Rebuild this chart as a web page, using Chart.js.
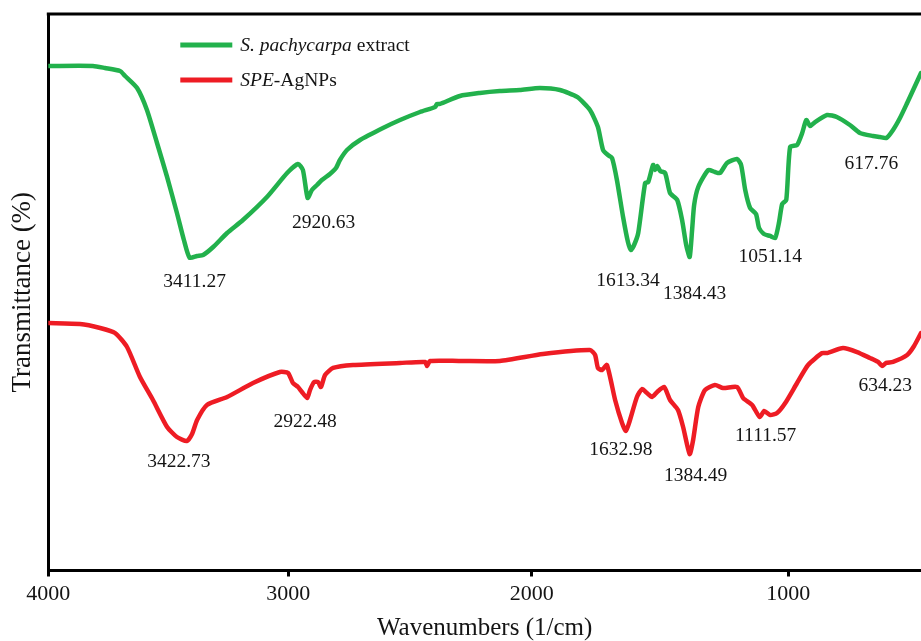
<!DOCTYPE html>
<html>
<head>
<meta charset="utf-8">
<title>FTIR spectra</title>
<script src="https://cdn.jsdelivr.net/npm/chart.js@4/dist/chart.umd.min.js"></script>
<style>
  html, body { margin: 0; padding: 0; background: #fff; overflow: hidden; }
  canvas { display: block; }
</style>
</head>
<body>
<canvas id="ftir" width="921" height="641"></canvas>
<script>
// ---- Spectra (wavenumber in cm^-1, transmittance in arbitrary %) ----
const extractWavenumbers = [
  4000, 3814, 3764, 3701, 3680, 3630, 3589, 3547, 3505, 3464,
  3435, 3411.27, 3380, 3355, 3313, 3255, 3189, 3089, 3005, 2960,
  2940, 2920.63, 2903, 2882, 2862, 2829, 2804, 2788, 2759, 2705,
  2611, 2541, 2459, 2397, 2389, 2377, 2295, 2213, 2131, 2049,
  1968, 1890, 1823, 1773, 1742, 1722, 1703, 1687, 1668, 1644,
  1625, 1613.34, 1601, 1585, 1558, 1546, 1527, 1519, 1511, 1499,
  1480, 1461, 1433, 1414, 1398, 1384.43, 1375, 1367, 1351, 1312,
  1286, 1266, 1239, 1200, 1184, 1168, 1149, 1126, 1114, 1095,
  1071, 1051.14, 1036, 1024, 1008, 993, 966, 946, 930, 915,
  896, 849, 811, 760, 721, 670, 643, 617.76, 592, 565,
  537, 510, 483
];
const extractTransmittance = [
  90.66, 90.66, 90.30, 89.76, 88.86, 86.70, 82.75, 76.82, 70.71, 64.24,
  59.39, 56.20, 56.51, 56.69, 58.13, 60.65, 62.98, 67.12, 71.43, 73.05,
  71.97, 66.94, 68.38, 69.27, 70.17, 71.25, 72.33, 73.77, 75.56, 77.36,
  79.51, 80.95, 82.39, 83.29, 83.83, 83.83, 85.27, 85.81, 86.16, 86.34,
  86.70, 86.34, 85.09, 82.75, 79.69, 75.56, 74.66, 74.12, 70.17, 63.52,
  59.03, 57.59, 58.49, 60.65, 69.63, 69.81, 72.87, 71.97, 72.69, 71.79,
  71.43, 67.83, 66.58, 62.98, 58.49, 56.33, 61.19, 65.69, 68.91, 71.97,
  71.61, 71.43, 73.23, 73.94, 72.87, 68.38, 65.14, 64.06, 61.55, 60.47,
  60.11, 59.75, 62.62, 65.86, 66.58, 76.10, 76.46, 78.62, 80.95, 79.87,
  80.59, 81.85, 81.49, 80.05, 78.62, 78.08, 77.90, 77.72, 79.16, 81.31,
  84.01, 86.70, 89.40
];

const agnpWavenumbers = [
  4000, 3868, 3784, 3722, 3672, 3618, 3564, 3505, 3464, 3422.73,
  3401, 3380, 3339, 3255, 3147, 3035, 3001, 2981, 2960, 2944,
  2922.48, 2911, 2894, 2878, 2866, 2849, 2816, 2734, 2541, 2438,
  2430, 2418, 2295, 2131, 1956, 1773, 1753, 1742, 1726, 1707,
  1675, 1648, 1632.98, 1617, 1590, 1570, 1551, 1531, 1511, 1484,
  1461, 1430, 1410, 1384.49, 1371, 1351, 1325, 1286, 1254, 1200,
  1176, 1141, 1111.57, 1094, 1071, 1044, 1012, 966, 923, 868,
  849, 787, 732, 682, 650, 634.23, 619, 592, 537, 510,
  483
];
const agnpTransmittance = [
  44.47, 44.29, 43.58, 42.68, 40.16, 34.77, 30.64, 25.79, 23.99, 23.27,
  24.53, 27.04, 29.74, 31.18, 33.69, 35.67, 35.49, 33.69, 32.97, 32.08,
  30.98, 32.43, 33.87, 33.87, 32.97, 35.13, 36.39, 36.93, 37.29, 37.47,
  36.75, 37.65, 37.65, 37.65, 38.90, 39.62, 38.72, 36.39, 36.03, 36.93,
  30.64, 26.50, 25.07, 27.04, 31.18, 32.61, 31.90, 31.18, 32.08, 32.97,
  30.64, 28.84, 25.79, 20.93, 23.45, 29.38, 32.43, 33.33, 32.79, 32.97,
  30.98, 29.74, 27.58, 28.66, 27.94, 28.30, 30.10, 33.69, 36.93, 39.08,
  39.08, 39.98, 39.26, 38.19, 37.47, 36.75, 37.29, 37.47, 38.72, 40.34,
  42.68
];

// Annotated band positions (cm^-1)
const extractPeaks = [3411.27, 2920.63, 1613.34, 1384.43, 1051.14, 617.76];
const agnpPeaks = [3422.73, 2922.48, 1632.98, 1384.49, 1111.57, 634.23];

// Legend names: [text, italic] runs
const seriesNames = [
  [['S. pachycarpa', true], [' extract', false]],
  [['SPE', true], ['-AgNPs', false]]
];

const tickValues = [4000, 3000, 2000, 1000];
const axisHigh = 4000;
const axisLow = 483;

// ---- Styling ----
const SERIF = "'Liberation Serif', 'Times New Roman', serif";
const GREEN = '#22B14C';
const RED = '#EE1C24';
const INK = '#141414';

// The exported spectrum axis is a little wider per 1000 cm^-1 toward low wavenumbers.
const axisBreaks = [4000, 3000, 2000, 1000];
const axisStretch = [1.0, 1.0142, 1.0692];

function stretchedDistance(v) {
  let d = 0;
  for (let i = 0; i < axisBreaks.length - 1; i++) {
    const hi = axisBreaks[i], lo = axisBreaks[i + 1];
    const clamped = Math.min(hi, Math.max(lo, v));
    d += (hi - clamped) * axisStretch[i];
  }
  const last = axisBreaks[axisBreaks.length - 1];
  if (v < last) d += (last - v) * axisStretch[axisStretch.length - 1];
  if (v > axisBreaks[0]) d -= (v - axisBreaks[0]) * axisStretch[0];
  return d;
}

class WavenumberScale extends Chart.LinearScale {
  getPixelForValue(value) {
    return this.getPixelForDecimal(stretchedDistance(value) / stretchedDistance(this.min));
  }
  getValueForPixel(pixel) {
    let lo = this.min, hi = this.max;
    for (let k = 0; k < 40; k++) {
      const mid = (lo + hi) / 2;
      if (this.getPixelForValue(mid) > pixel) lo = mid; else hi = mid;
    }
    return (lo + hi) / 2;
  }
}
WavenumberScale.id = 'wavenumber';
WavenumberScale.defaults = Chart.LinearScale.defaults;
Chart.register(WavenumberScale);

const toPoints = (xs, ys) => xs.map((x, i) => ({ x, y: ys[i] }));
const plainName = runs => runs.map(r => r[0]).join('');

// Frame, band labels and legend
const decorations = {
  id: 'decorations',
  beforeDraw(chart) {
    const { ctx, width, height } = chart;
    ctx.save();
    ctx.fillStyle = '#fff';
    ctx.fillRect(0, 0, width, height);
    ctx.restore();
  },
  afterDraw(chart, args, opts) {
    const { ctx, chartArea } = chart;
    const xs = chart.scales.x, ys = chart.scales.y;

    // top frame line
    ctx.save();
    ctx.strokeStyle = '#000';
    ctx.lineWidth = 3;
    ctx.beginPath();
    ctx.moveTo(chartArea.left - 1.5, chartArea.top);
    ctx.lineTo(chartArea.right, chartArea.top);
    ctx.stroke();

    // band labels
    ctx.fillStyle = INK;
    ctx.font = opts.labelSize + 'px ' + SERIF;
    ctx.textAlign = 'center';
    ctx.textBaseline = 'alphabetic';
    opts.peaks.forEach((peaks, s) => {
      const ds = chart.data.datasets[s].data;
      peaks.forEach((w, i) => {
        const pt = ds.find(p => p.x === w);
        const [dx, dy] = opts.offsets[s][i];
        const px = xs.getPixelForValue(w) + dx;
        const py = ys.getPixelForValue(pt.y) + dy + opts.labelSize * 0.33;
        ctx.fillText(w.toFixed(2), px, py);
      });
    });

    // legend
    const lx = chartArea.left + opts.legend.x;
    chart.data.datasets.forEach((ds, s) => {
      const ly = chartArea.top + opts.legend.y + s * opts.legend.gap;
      ctx.strokeStyle = ds.borderColor;
      ctx.lineWidth = 5;
      ctx.lineCap = 'butt';
      ctx.beginPath();
      ctx.moveTo(lx, ly);
      ctx.lineTo(lx + opts.legend.lineLength, ly);
      ctx.stroke();
      let tx = lx + opts.legend.lineLength + opts.legend.textGap;
      ctx.fillStyle = INK;
      ctx.textAlign = 'left';
      ctx.textBaseline = 'middle';
      seriesNames[s].forEach(([text, italic]) => {
        ctx.font = (italic ? 'italic ' : '') + opts.legend.size + 'px ' + SERIF;
        ctx.fillText(text, tx, ly + 1);
        tx += ctx.measureText(text).width;
      });
    });
    ctx.restore();
  }
};

new Chart(document.getElementById('ftir'), {
  type: 'line',
  data: {
    datasets: [
      {
        label: plainName(seriesNames[0]),
        data: toPoints(extractWavenumbers, extractTransmittance),
        borderColor: GREEN
      },
      {
        label: plainName(seriesNames[1]),
        data: toPoints(agnpWavenumbers, agnpTransmittance),
        borderColor: RED
      }
    ]
  },
  options: {
    responsive: false,
    animation: false,
    events: [],
    devicePixelRatio: 1,
    layout: { padding: { top: 14, right: 0, bottom: 0, left: 0 } },
    elements: {
      point: { radius: 0 },
      line: { tension: 0.2, borderWidth: 4.5, borderJoinStyle: 'round', borderCapStyle: 'round', fill: false }
    },
    plugins: {
      legend: { display: false },
      tooltip: { enabled: false },
      decorations: {
        labelSize: 19.5,
        peaks: [extractPeaks, agnpPeaks],
        offsets: [
          [[5, 23], [16, 24], [-3, 30], [5, 36], [-5, 18], [-15, 25]],
          [[-8, 20], [-2, 22], [-5, 18], [6, 21], [6, 18], [3, 19]]
        ],
        legend: { x: 132, y: 31, gap: 35, lineLength: 52, textGap: 8, size: 19.5 }
      }
    },
    scales: {
      x: {
        type: 'wavenumber',
        min: axisLow,
        max: axisHigh,
        bounds: 'data',
        afterBuildTicks: scale => { scale.ticks = tickValues.map(v => ({ value: v })); },
        afterFit: scale => { scale.height = 70.5; },
        ticks: {
          callback: v => String(v),
          autoSkip: false,
          maxRotation: 0,
          padding: 5,
          color: INK,
          font: { family: SERIF, size: 22 }
        },
        grid: { drawOnChartArea: false, drawTicks: true, tickLength: 6, tickWidth: 3, tickColor: '#000' },
        border: { display: true, color: '#000', width: 3 },
        title: {
          display: true,
          text: 'Wavenumbers (1/cm)',
          color: INK,
          font: { family: SERIF, size: 25, lineHeight: 1 },
          padding: { top: 0, bottom: 0 }
        }
      },
      y: {
        min: 0,
        max: 100,
        afterFit: scale => { scale.width = 48.3; },
        ticks: { display: false },
        grid: { display: false },
        border: { display: true, color: '#000', width: 3 },
        title: {
          display: true,
          text: 'Transmittance (%)',
          color: INK,
          font: { family: SERIF, size: 27, lineHeight: 1 },
          padding: { top: 9, bottom: 0 }
        }
      }
    }
  },
  plugins: [decorations]
});
</script>
</body>
</html>
